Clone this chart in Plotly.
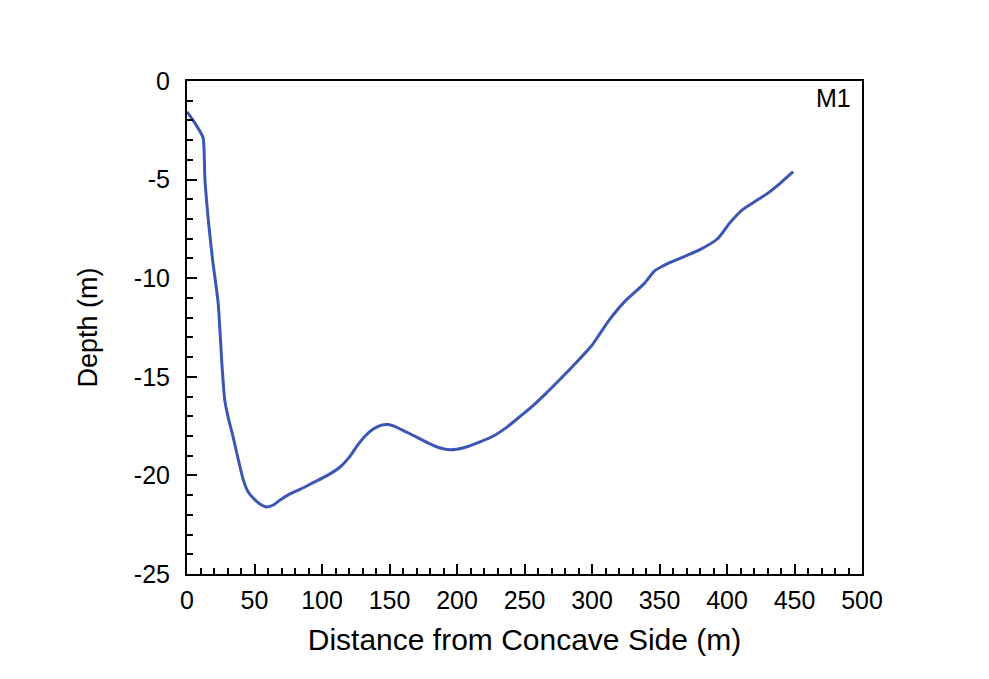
import plotly.graph_objects as go

distance = [0, 4.4, 9.6, 12, 13.3, 16, 19, 23, 26, 28, 31, 34, 37, 41.6, 45, 49, 54, 59, 64, 69, 76, 84, 94, 104, 113, 120, 126, 132, 138, 144, 149, 155, 161, 167, 174, 180, 187, 195, 205, 217, 227, 237, 246, 254, 265, 276, 288, 300, 306, 313, 324, 339, 346, 352, 358, 370, 380, 393, 402, 412, 421, 430, 440, 449]
depth = [-1.56, -1.98, -2.55, -2.9, -5.0, -7.2, -9.1, -11.2, -14.5, -16.2, -17.2, -18.0, -18.9, -20.2, -20.8, -21.15, -21.45, -21.6, -21.5, -21.25, -20.95, -20.7, -20.35, -20.0, -19.6, -19.1, -18.5, -18.0, -17.65, -17.45, -17.42, -17.55, -17.75, -17.95, -18.2, -18.4, -18.6, -18.7, -18.6, -18.3, -18.0, -17.55, -17.05, -16.6, -15.9, -15.15, -14.3, -13.4, -12.8, -12.1, -11.2, -10.25, -9.65, -9.4, -9.2, -8.85, -8.55, -8.0, -7.2, -6.5, -6.1, -5.7, -5.15, -4.6]

x_ticks = [0, 50, 100, 150, 200, 250, 300, 350, 400, 450, 500]
x_labels = ["0", "50", "100", "150", "200", "250", "300", "350", "400", "450", "500"]
y_ticks = [0, -5, -10, -15, -20, -25]
y_labels = ["0", "-5", "-10", "-15", "-20", "-25"]

font_family = "Liberation Sans, Arial, sans-serif"

fig = go.Figure()
fig.add_trace(go.Scatter(
    x=distance, y=depth, mode="lines",
    line=dict(color="#3b56b5", width=3, shape="spline", smoothing=0.6),
    showlegend=False,
))

fig.update_layout(
    width=989, height=679,
    margin=dict(l=179, r=135, t=73, b=113),
    paper_bgcolor="white", plot_bgcolor="white",
    font=dict(family=font_family, color="black", size=25),
    annotations=[dict(
        text="M1", x=1, y=1, xref="paper", yref="paper",
        xanchor="right", yanchor="top", xshift=-9, yshift=-1,
        showarrow=False, font=dict(size=25, family=font_family, color="black"),
    )],
)

fig.update_xaxes(
    range=[0, 500], tickvals=x_ticks, ticktext=x_labels,
    ticks="inside", ticklen=10, tickwidth=1.5, tickcolor="black",
    minor=dict(dtick=10, ticks="inside", ticklen=6, tickwidth=1.5, tickcolor="black"),
    showline=True, linecolor="black", linewidth=2, mirror=True,
    showgrid=False, zeroline=False,
    tickfont=dict(size=25), ticklabelstandoff=3,
    title=dict(text="Distance from Concave Side (m)", font=dict(size=30), standoff=16),
)
fig.update_yaxes(
    range=[-25, 0], tickvals=y_ticks, ticktext=y_labels,
    ticks="inside", ticklen=10, tickwidth=1.5, tickcolor="black",
    minor=dict(dtick=1, ticks="inside", ticklen=6, tickwidth=1.5, tickcolor="black"),
    showline=True, linecolor="black", linewidth=2, mirror=True,
    showgrid=False, zeroline=False,
    tickfont=dict(size=25), ticklabelstandoff=10,
    title=dict(text="Depth (m)", font=dict(size=27), standoff=28),
)

fig.write_html("out.html")
